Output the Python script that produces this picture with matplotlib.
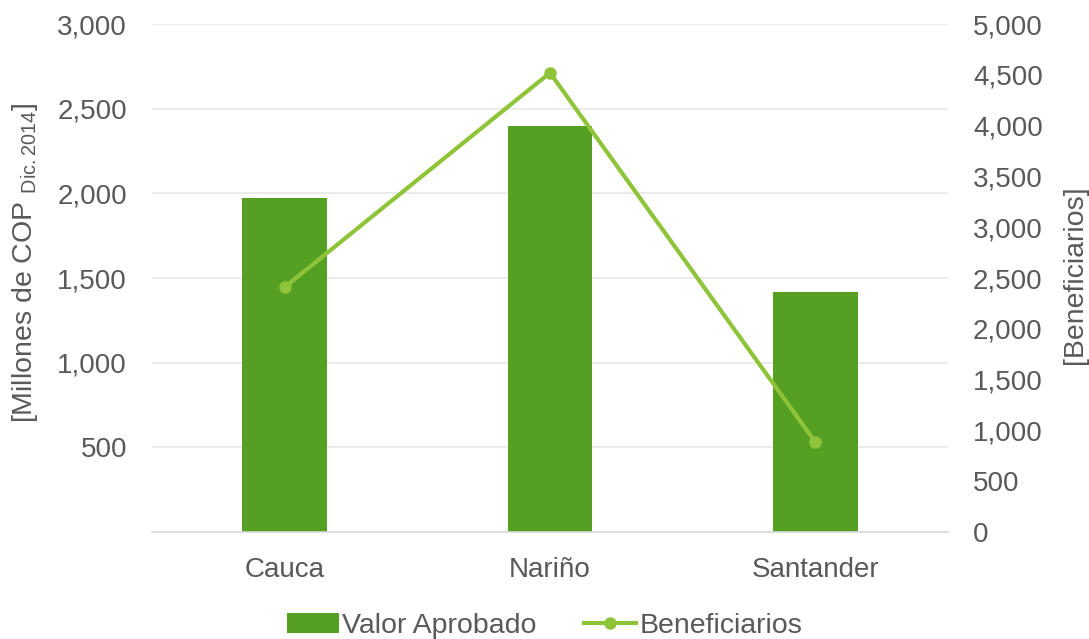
import matplotlib
matplotlib.use("Agg")
import matplotlib.pyplot as plt

# datos
departamentos = ["Cauca", "Nariño", "Santander"]
valor_aprobado = [1975, 2400, 1420]      # millones de COP
beneficiarios = [2410, 4520, 885]

COLOR_BARRA = "#55A022"
COLOR_LINEA = "#8FC43A"
GRIS = "#595959"
FS = 20

plt.rcParams["font.family"] = ["Liberation Sans", "DejaVu Sans"]
plt.rcParams["mathtext.fontset"] = "custom"
plt.rcParams["mathtext.rm"] = "Liberation Sans"
plt.rcParams["mathtext.it"] = "Liberation Sans"

fig = plt.figure(figsize=(10.89, 6.39), dpi=100)
ax = fig.add_axes([0.1396, 0.1674, 0.7309, 0.795])
x = list(range(len(departamentos)))

ax.bar(x, valor_aprobado, width=0.32, color=COLOR_BARRA, label="Valor Aprobado", zorder=2)
ax.set_xlim(-0.5, 2.5)
ax.set_ylim(0, 3000)
ax.set_yticks([500, 1000, 1500, 2000, 2500, 3000])
ax.set_yticklabels([f"{v:,}" for v in [500, 1000, 1500, 2000, 2500, 3000]])
ax.set_xticks(x)
ax.set_xticklabels(departamentos)
ax.yaxis.grid(True, color="#E8E8E8", lw=1.2, zorder=0)
ax.set_axisbelow(True)
ax.set_ylabel(r"[Millones de COP $_{\mathrm{Dic.2014}}$]", color=GRIS, fontsize=20.5)
ax.yaxis.set_label_coords(-0.141, 0.53)

ax2 = ax.twinx()
ax2.plot(x, beneficiarios, color=COLOR_LINEA, lw=3, marker="o", ms=8, label="Beneficiarios", zorder=3)
ax2.set_ylim(0, 5000)
ax2.set_yticks(range(0, 5001, 500))
ax2.set_yticklabels([f"{v:,}" for v in range(0, 5001, 500)])
ax2.set_ylabel("[Beneficiarios]", color=GRIS, fontsize=20.5)
ax2.yaxis.set_label_coords(1.143, 0.506)

for a in (ax, ax2):
    for s in a.spines.values():
        s.set_visible(False)
    a.tick_params(length=0, labelsize=FS, colors=GRIS)
ax.tick_params(axis="x", pad=18)
ax.tick_params(axis="y", pad=18)
ax2.tick_params(axis="y", pad=18)
ax.spines["bottom"].set_visible(True)
ax.spines["bottom"].set_color("#D9D9D9")
ax.spines["bottom"].set_linewidth(1.2)

h1, l1 = ax.get_legend_handles_labels()
h2, l2 = ax2.get_legend_handles_labels()
fig.legend(h1 + h2, l1 + l2, loc="lower center", bbox_to_anchor=(0.5, -0.04), ncol=2,
           frameon=False, fontsize=20.5, labelcolor=GRIS, handlelength=1.85, handletextpad=0.1,
           columnspacing=1.65)

fig.savefig("out.png", dpi=100)
